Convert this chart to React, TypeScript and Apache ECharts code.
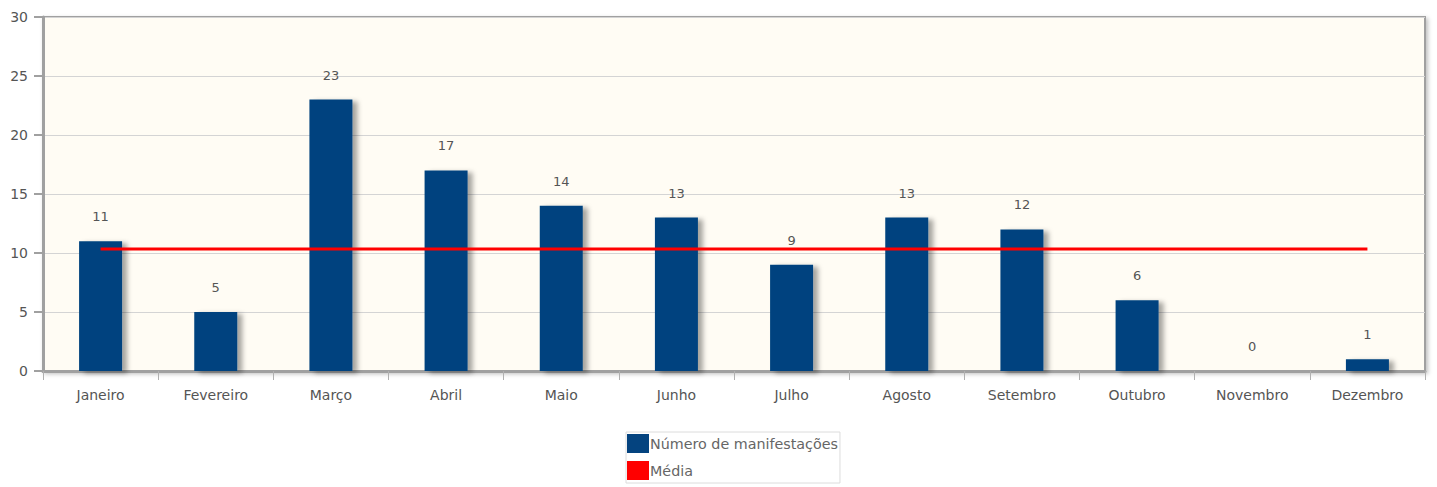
import React, { useEffect, useRef } from "react";
import * as echarts from "echarts";

const meses = ["Janeiro", "Fevereiro", "Março", "Abril", "Maio", "Junho", "Julho", "Agosto", "Setembro", "Outubro", "Novembro", "Dezembro"];
const manifestacoes = [11, 5, 23, 17, 14, 13, 9, 13, 12, 6, 0, 1];
const total = manifestacoes.reduce((a, b) => a + b, 0);
const mediaValor = total / manifestacoes.length;
const media = meses.map(() => mediaValor);

const FONT = "DejaVu Sans";

export default function App() {
  const ref = useRef<HTMLDivElement>(null);
  useEffect(() => {
    if (!ref.current) return;
    const chart = echarts.init(ref.current, null, { renderer: "svg" });
    chart.setOption({
      animation: false,
      textStyle: { fontFamily: FONT },
      grid: {
        left: 43,
        right: 12,
        top: 17,
        bottom: 116,
        show: true,
        backgroundColor: "#fffcf4",
        borderColor: "#a0a0a0",
        borderWidth: 2,
        shadowColor: "rgba(0,0,0,0.25)",
        shadowBlur: 4,
        shadowOffsetX: 2,
        shadowOffsetY: 2,
      },
      legend: {
        orient: "vertical",
        left: 626,
        top: 432,
        itemWidth: 22,
        itemHeight: 19,
        itemGap: 8,
        padding: [2, 2, 3, 1],
        borderColor: "#dcdcdc",
        borderWidth: 1,
        backgroundColor: "#ffffff",
        textStyle: { fontFamily: FONT, fontSize: 14.3, color: "#666", padding: [0, 0, 8, -4] },
        data: [
          { name: "Número de manifestações", icon: "rect" },
          { name: "Média", icon: "rect" },
        ],
      },
      xAxis: {
        type: "category",
        data: meses,
        boundaryGap: true,
        axisLine: { lineStyle: { color: "#a0a0a0", width: 3 } },
        axisTick: { show: true, length: 9, lineStyle: { color: "#b0b0b0", width: 1 } },
        axisLabel: { color: "#555", fontSize: 14, fontFamily: FONT, margin: 17 },
        splitLine: { show: false },
      },
      yAxis: {
        type: "value",
        min: 0,
        max: 30,
        interval: 5,
        axisLine: { show: true, lineStyle: { color: "#a0a0a0", width: 3 } },
        axisTick: { show: true, length: 9, lineStyle: { color: "#a0a0a0", width: 2 } },
        axisLabel: { color: "#555", fontSize: 14, fontFamily: FONT, margin: 15 },
        splitLine: { show: true, lineStyle: { color: "#d4d4d4", width: 1 } },
      },
      series: [
        {
          name: "Número de manifestações",
          type: "bar",
          data: manifestacoes,
          barWidth: 43,
          itemStyle: {
            color: "#04437f",
            shadowColor: "rgba(0,0,0,0.35)",
            shadowBlur: 5,
            shadowOffsetX: 5,
            shadowOffsetY: 2,
          },
          label: {
            show: true,
            position: "top",
            distance: 18,
            color: "#555",
            fontSize: 13,
            fontFamily: FONT,
          },
        },
        {
          name: "Média",
          type: "line",
          data: media,
          symbol: "none",
          lineStyle: { color: "#ff0000", width: 3 },
          itemStyle: { color: "#ff0000" },
          z: 5,
        },
      ],
    });
    return () => chart.dispose();
  }, []);
  return <div ref={ref} style={{ width: 1437, height: 487, position: "absolute", left: 0, top: 0 }} />;
}
